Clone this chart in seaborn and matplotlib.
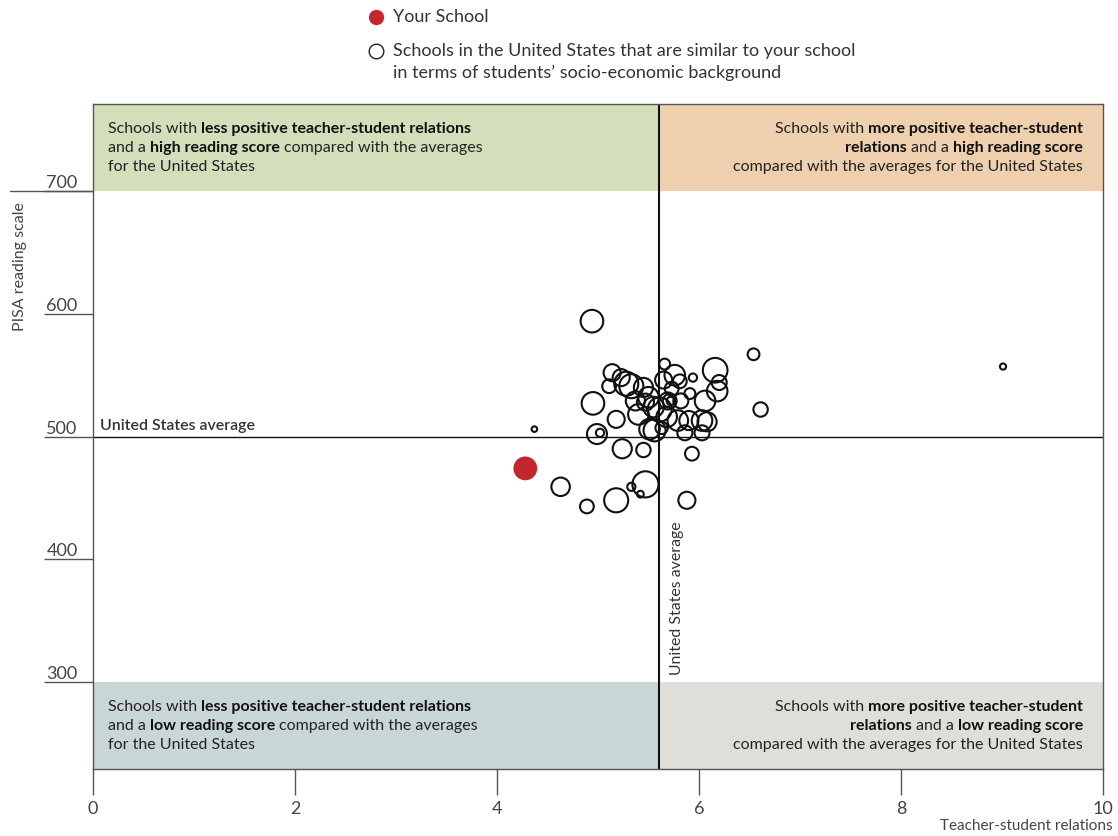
import pandas as pd
import seaborn as sns
import matplotlib.pyplot as plt
from matplotlib.lines import Line2D
from matplotlib.transforms import IdentityTransform

# Similar schools: teacher-student relations index, PISA reading score, bubble size
relations = [4.94, 6.54, 9.01, 6.61, 4.37, 4.63, 4.89, 5.18, 5.47, 5.33,
             5.42, 5.88, 5.24, 5.45, 5.93, 4.95, 4.99, 5.02, 5.18, 5.14,
             5.11, 5.23, 5.28, 5.33, 5.45, 5.66, 5.65, 5.76, 5.81, 5.94,
             6.16, 6.20, 6.18, 6.06, 5.91, 5.82, 5.71, 5.72, 5.50, 5.55,
             5.40, 5.61, 5.68, 5.56, 5.51, 5.63, 5.79, 5.86, 5.90, 6.03,
             6.03, 5.73, 5.37, 5.47, 5.69, 6.08]
reading = [594, 567, 557, 522, 506, 459, 443, 448, 461, 459,
           453, 448, 490, 489, 486, 527, 502, 503, 514, 552,
           541, 548, 543, 541, 540, 559, 546, 550, 545, 548,
           554, 544, 537, 529, 535, 529, 529, 529, 532, 524,
           518, 522, 516, 505, 506, 507, 513, 503, 513, 513,
           503, 539, 529, 528, 529, 512]
school_size = [11, 5.7, 3, 7, 2.7, 9, 6.7, 11.7, 12.7, 4,
               3.3, 8.3, 9.3, 7, 6.7, 11, 9.7, 4, 8.3, 8.3,
               6.7, 8.3, 11.7, 11.7, 9.3, 5.3, 8.3, 10, 6.7, 4,
               12, 7.3, 10, 10, 5.3, 7.3, 6.7, 4, 10, 10,
               10, 11.7, 10, 10.7, 10, 6, 10, 7.3, 9.3, 10,
               7.3, 6.7, 9.3, 8.3, 8.3, 9.3]

your_relations = 4.28
your_reading = 474
your_size = 10.7

us_avg_relations = 5.6
us_avg_reading = 500

x_ticks = [0, 2, 4, 6, 8, 10]
y_ticks = [300, 400, 500, 600, 700]

df = pd.DataFrame({"relations": relations, "reading": reading, "size": school_size})
df["area"] = (1.48 * df["size"]) ** 2

sns.set_theme(style="white")
plt.rcParams["font.family"] = ["Lato", "DejaVu Sans"]

W, H = 1118, 836
fig = plt.figure(figsize=(W / 100, H / 100), dpi=100)
ax = fig.add_axes([93 / W, 67 / H, 1010 / W, 665 / H])
ax.set_xlim(0, 10)
ax.set_ylim(229, 771)

grey = "#555555"
txt = "#333333"

# quadrant bands
split = us_avg_relations / 10
ax.axhspan(700, 771, xmin=0, xmax=split, color="#d3debb", lw=0, zorder=0)
ax.axhspan(700, 771, xmin=split, xmax=1, color="#eecfae", lw=0, zorder=0)
ax.axhspan(229, 300, xmin=0, xmax=split, color="#c9d6d8", lw=0, zorder=0)
ax.axhspan(229, 300, xmin=split, xmax=1, color="#dfdfda", lw=0, zorder=0)

ax.axvline(us_avg_relations, color="#111111", lw=1.5, zorder=1)
ax.axhline(us_avg_reading, color="#111111", lw=1.0, zorder=1)

sns.scatterplot(data=df, x="relations", y="reading", size="area",
                sizes=(df["area"].min(), df["area"].max()),
                size_norm=(df["area"].min(), df["area"].max()),
                facecolor="none", edgecolor="#111111", linewidth=1.5,
                legend=False, ax=ax, zorder=3)
ax.scatter([your_relations], [your_reading], s=(1.6 * your_size) ** 2,
           color="#c1272d", edgecolor="none", zorder=4)

for s in ax.spines.values():
    s.set_color(grey)
    s.set_linewidth(1)

ax.set_xticks(x_ticks)
ax.set_yticks(y_ticks)
ax.tick_params(axis="x", direction="out", length=19, width=1, color=grey,
               labelsize=13, labelcolor="#444444", pad=4, bottom=True)
ax.tick_params(axis="y", direction="out", length=35, width=1, color=grey,
               labelsize=13, labelcolor="#444444", pad=-24, left=True)
for lab in ax.get_yticklabels():
    lab.set_verticalalignment("bottom")
ax.set_xlabel("")
ax.set_ylabel("")

# longer tick line at 700
ax.plot([-0.82, 0], [700, 700], color=grey, lw=1, clip_on=False, zorder=1)

ax.text(0.07, 503, "United States average", fontsize=11.4, color=txt,
        ha="left", va="bottom", fontweight="semibold")
ax.text(us_avg_relations + 0.18, 306, "United States average", fontsize=11.4,
        color=txt, rotation=90, ha="center", va="bottom")

fig.text(20 / W, 1 - 267 / H, "PISA reading scale", rotation=90, fontsize=11.5,
         color="#444444", ha="center", va="center")
fig.text(1113 / W, 1 - 826 / H, "Teacher-student relations", fontsize=11,
         color="#444444", ha="right", va="center")

# mixed weight text lines
renderer = fig.canvas.get_renderer()


def text_width(s, bold, size):
    t = fig.text(0, 0, s, fontsize=size, fontweight="bold" if bold else "normal")
    w = t.get_window_extent(renderer).width
    t.remove()
    return w


def rich_line(x_px, y_px, parts, ha="left", size=11.5):
    space = text_width("a a", False, size) - text_width("aa", False, size)
    widths = [text_width(s, b, size) for s, b in parts]
    total = sum(widths) + space * (len(parts) - 1)
    x = x_px if ha == "left" else x_px - total
    for (s, b), w in zip(parts, widths):
        fig.text(x, H - y_px, s, fontsize=size, transform=IdentityTransform(),
                 fontweight="bold" if b else "normal",
                 color="#111111" if b else "#222222", ha="left", va="center")
        x += w + space


rich_line(108, 129, [("Schools with", False), ("less positive teacher-student relations", True)])
rich_line(108, 148, [("and a", False), ("high reading score", True), ("compared with the averages", False)])
rich_line(108, 167, [("for the United States", False)])

rich_line(1083, 129, [("Schools with", False), ("more positive teacher-student", True)], ha="right")
rich_line(1083, 148, [("relations", True), ("and a", False), ("high reading score", True)], ha="right")
rich_line(1083, 167, [("compared with the averages for the United States", False)], ha="right")

rich_line(108, 707, [("Schools with", False), ("less positive teacher-student relations", True)])
rich_line(108, 726, [("and a", False), ("low reading score", True), ("compared with the averages", False)])
rich_line(108, 745, [("for the United States", False)])

rich_line(1083, 707, [("Schools with", False), ("more positive teacher-student", True)], ha="right")
rich_line(1083, 726, [("relations", True), ("and a", False), ("low reading score", True)], ha="right")
rich_line(1083, 745, [("compared with the averages for the United States", False)], ha="right")

# legend at the top
fig.add_artist(Line2D([376 / W], [1 - 17 / H], marker="o", markersize=11,
                      color="#c1272d", markeredgecolor="none", transform=fig.transFigure))
fig.add_artist(Line2D([376 / W], [1 - 51 / H], marker="o", markersize=10.5,
                      markerfacecolor="white", markeredgecolor="#222222",
                      markeredgewidth=1.0, transform=fig.transFigure))
fig.text(393 / W, 1 - 17 / H, "Your School", fontsize=13, color=txt, va="center")
fig.text(393 / W, 1 - 51 / H, "Schools in the United States that are similar to your school",
         fontsize=13, color=txt, va="center")
fig.text(393 / W, 1 - 73 / H, "in terms of students\u2019 socio-economic background",
         fontsize=13, color=txt, va="center")

fig.savefig("out.png", dpi=100)
